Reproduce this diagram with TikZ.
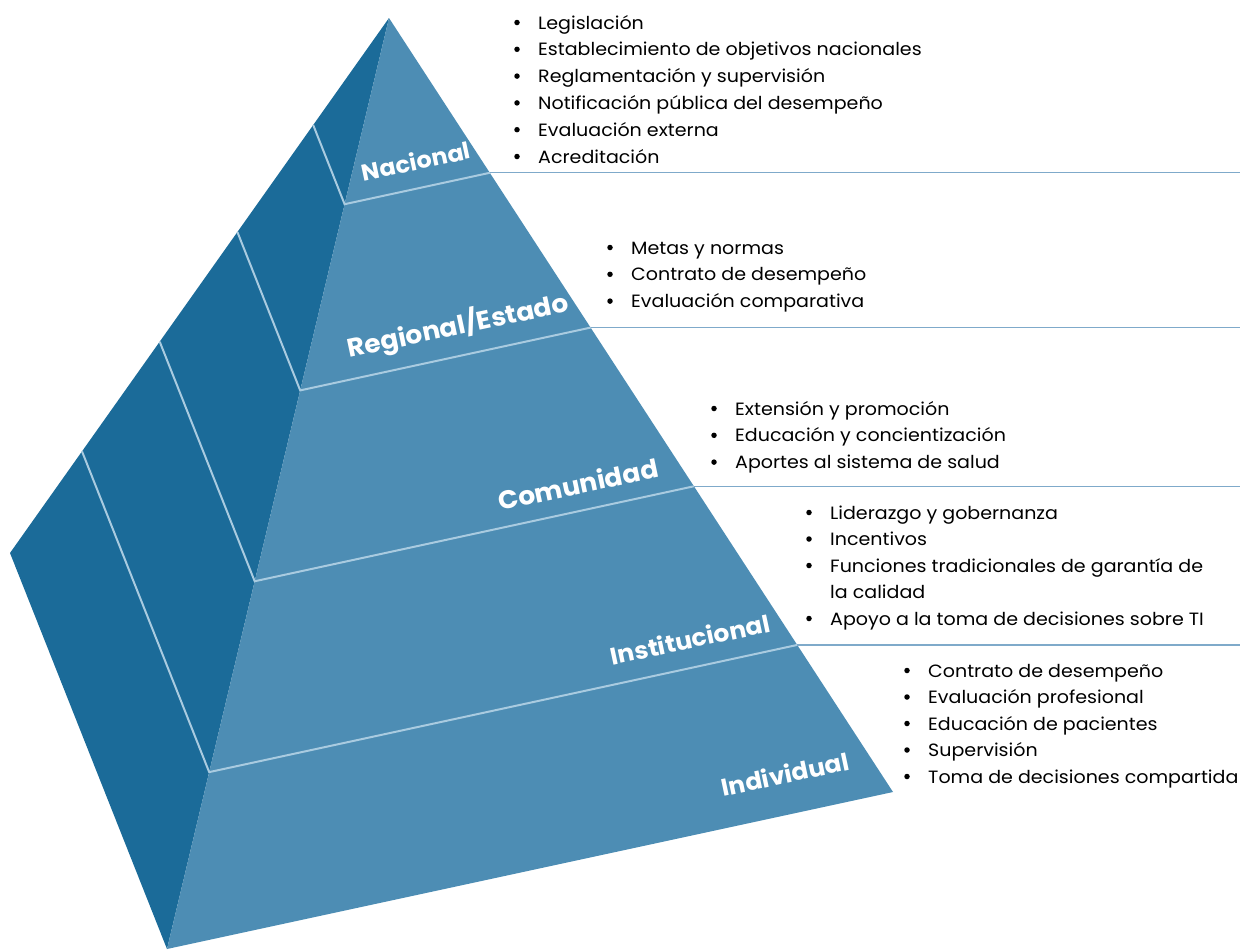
\documentclass[tikz,border=0pt]{standalone}
\usepackage{fontspec}
\setmainfont{Poppins}[FakeStretch=1.07]
\newfontfamily\lblfont{Poppins}[FakeStretch=1.04]
\usetikzlibrary{calc}
\definecolor{darkface}{HTML}{1B6B99}
\definecolor{frontface}{HTML}{4D8DB4}
\definecolor{levelline}{HTML}{A9CBE0}
\definecolor{ruleline}{HTML}{7FAACA}
\tikzset{
  lvl/.style={draw=levelline, line width=2pt},
  rule/.style={draw=ruleline, line width=1.3pt},
  lbl/.style={text=white, font=\lblfont\fontsize{24}{28}\selectfont\bfseries, rotate=12, inner sep=0},
  bul/.style={anchor=base west, inner sep=0, font=\fontsize{17.8}{20}\selectfont},
  dot/.style={circle, fill=black, inner sep=0, minimum size=5.5pt},
}
\newcommand{\bulletline}[4]{% name, x, baseline y, text
  \node[dot] (b#1) at ({#2-21},{#3-6.5}) {};
  \node[bul] (t#1) at (#2,{#3}) {#4};
}
\begin{document}
\begin{tikzpicture}[x=1pt,y=-1pt]
\useasboundingbox (0,0) rectangle (1240,951);
\coordinate (A) at (389,18);
\coordinate (B) at (167,949);
\coordinate (C) at (893,792);
\coordinate (D) at (10,553);
\coordinate (E) at (1240,0);
\fill[darkface] (A) -- (D) -- (B) -- cycle;
\fill[frontface] (A) -- (B) -- (C) -- cycle;
\foreach \t [count=\i] in {0.2,0.4,0.605,0.81}{
  \coordinate (L\i) at ($(A)!\t!(D)$);
  \coordinate (M\i) at ($(A)!\t!(B)$);
  \coordinate (R\i) at ($(A)!\t!(C)$);
  \draw[lvl] (L\i) -- (M\i) -- (R\i);
  \draw[rule] (R\i) -- (R\i -| E);
}
\node[lbl, font=\lblfont\fontsize{23}{28}\selectfont\bfseries] (n1) at (416,161) {Nacional};
\node[lbl, font=\lblfont\fontsize{25.5}{28}\selectfont\bfseries] (n2) at (458,326) {Regional/Estado};
\node[lbl, font=\lblfont\fontsize{25.5}{28}\selectfont\bfseries] (n3) at (578,484) {Comunidad};
\node[lbl] (n4) at (690,639) {Institucional};
\node[lbl] (n5) at (785,774) {Individual};
% block 1
\foreach \txt [count=\i] in {Legislación,Establecimiento de objetivos nacionales,Reglamentación y supervisión,Notificación pública del desempeño,Evaluación externa,Acreditación}{
  \bulletline{a\i}{538}{29+26.8*(\i-1)}{\txt}
}
% block 2
\foreach \txt [count=\i] in {Metas y normas,Contrato de desempeño,Evaluación comparativa}{
  \bulletline{c\i}{631}{254+26.8*(\i-1)}{\txt}
}
% block 3
\foreach \txt [count=\i] in {Extensión y promoción,Educación y concientización,Aportes al sistema de salud}{
  \bulletline{d\i}{735}{415+26.8*(\i-1)}{\txt}
}
% block 4
\foreach \txt [count=\i] in {Liderazgo y gobernanza,Incentivos,Funciones tradicionales de garantía de}{
  \bulletline{e\i}{830}{519+26.5*(\i-1)}{\txt}
}
\node[bul] (e3x) at (830,{519+26.5*3}) {la calidad};
\bulletline{e4}{830}{519+26.5*4}{Apoyo a la toma de decisiones sobre TI}
% block 5
\foreach \txt [count=\i] in {Contrato de desempeño,Evaluación profesional,Educación de pacientes,Supervisión,Toma de decisiones compartida}{
  \bulletline{f\i}{928}{677+26.5*(\i-1)}{\txt}
}
\end{tikzpicture}
\end{document}
